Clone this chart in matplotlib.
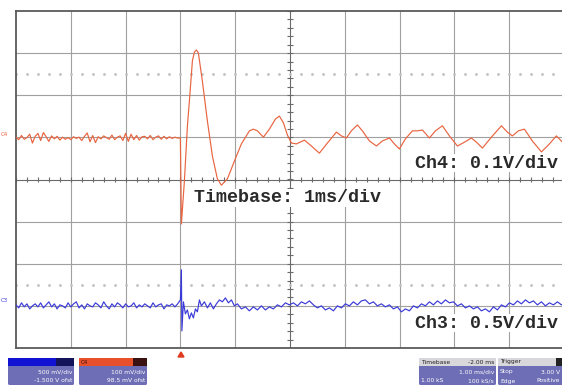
import numpy as np
import matplotlib.pyplot as plt
from matplotlib.patches import FancyBboxPatch, Rectangle, Polygon

# channel settings: volts per division and offset (V)
CH3_VDIV = 0.5
CH3_OFST = -1.5
CH4_VDIV = 0.1
CH4_OFST = 0.0985

# pre-trigger record, one sample every 0.05 ms starting at -3 ms
SAMPLE_DT = 0.05
ch4_pre = [0.002, -0.004, 0.006, -0.003, 0.001, 0.009, -0.012, 0.004, 0.011, -0.006,
           0.013, 0.003, -0.008, 0.005, -0.002, 0.004, -0.005, 0.002, -0.003, 0.001,
           -0.004, 0.003, -0.001, 0.002, -0.006, 0.004, 0.012, -0.009, 0.006, -0.011,
           0.003, -0.002, 0.005, 0.001, -0.003, 0.007, -0.004, 0.002, 0.005, -0.006,
           0.011, -0.008, 0.009, -0.004, 0.006, -0.005, 0.003, 0.004, -0.002, 0.006,
           -0.004, 0.002, 0.005, -0.003, 0.004, -0.002, 0.003, -0.001, 0.002, 0.0]
ch3_pre = [0.012, -0.024, 0.036, -0.012, 0.024, -0.036, 0.0, 0.024, -0.012, 0.036,
           -0.024, 0.012, 0.048, -0.012, 0.024, -0.036, 0.012, 0.0, -0.024, 0.036,
           -0.012, 0.024, 0.048, -0.024, 0.012, -0.036, 0.024, 0.0, -0.012, 0.036,
           0.012, -0.024, 0.048, 0.0, -0.036, 0.024, -0.012, 0.036, 0.012, -0.024,
           0.024, -0.012, 0.0, 0.036, -0.024, 0.012, -0.012, 0.024, 0.0, -0.024,
           0.036, -0.012, 0.012, 0.024, -0.036, 0.012, 0.0, 0.024, -0.012, 0.024]

# post-trigger response (ms, V)
ch4_t = [0.000, 0.018, 0.073, 0.128, 0.164, 0.219, 0.255, 0.292, 0.328, 0.401,
         0.493, 0.584, 0.675, 0.748, 0.858, 0.985, 1.113, 1.259, 1.332, 1.405,
         1.515, 1.624, 1.734, 1.807, 1.880, 1.953, 2.026, 2.117, 2.263, 2.391,
         2.536, 2.682, 2.847, 2.938, 3.029, 3.120, 3.230, 3.321, 3.449, 3.577,
         3.686, 3.814, 3.905, 3.996, 4.106, 4.234, 4.325, 4.416, 4.544, 4.653,
         4.781, 4.909, 5.055, 5.182, 5.310, 5.420, 5.511, 5.675, 5.858, 5.967,
         6.058, 6.168, 6.277, 6.423, 6.588, 6.734, 6.861, 6.989]
ch4_v = [0.000, -0.204, -0.102, 0.029, 0.088, 0.183, 0.204, 0.209, 0.202, 0.135,
         0.040, -0.043, -0.097, -0.112, -0.097, -0.055, -0.014, 0.017, 0.021, 0.017,
         0.002, 0.021, 0.045, 0.052, 0.036, 0.007, -0.012, -0.014, -0.005, -0.019,
         -0.036, -0.012, 0.014, 0.005, 0.000, 0.017, 0.031, 0.017, -0.007, -0.019,
         -0.007, 0.000, -0.014, -0.026, -0.002, 0.017, 0.017, 0.019, 0.000, 0.017,
         0.029, 0.005, -0.019, -0.010, 0.000, -0.012, -0.024, 0.002, 0.029, 0.014,
         0.005, 0.017, 0.021, -0.007, -0.033, -0.014, 0.005, -0.012]

ch3_t = [0.000, 0.018, 0.027, 0.055, 0.091, 0.128, 0.164, 0.201, 0.237, 0.274,
         0.310, 0.347, 0.383, 0.438, 0.493, 0.547, 0.602, 0.657, 0.712, 0.766,
         0.821, 0.876, 0.931, 0.985, 1.040, 1.113, 1.186, 1.259, 1.332, 1.405,
         1.478, 1.551, 1.624, 1.697, 1.770, 1.843, 1.916, 1.989, 2.062, 2.135,
         2.208, 2.281, 2.354, 2.427, 2.500, 2.573, 2.646, 2.719, 2.792, 2.865,
         2.938, 3.011, 3.084, 3.157, 3.230, 3.303, 3.376, 3.449, 3.522, 3.595,
         3.668, 3.741, 3.814, 3.887, 3.960, 4.033, 4.106, 4.179, 4.252, 4.325,
         4.398, 4.471, 4.544, 4.617, 4.690, 4.763, 4.836, 4.909, 4.982, 5.055,
         5.128, 5.201, 5.274, 5.347, 5.420, 5.493, 5.566, 5.639, 5.712, 5.785,
         5.858, 5.931, 6.004, 6.077, 6.150, 6.223, 6.296, 6.369, 6.442, 6.515,
         6.588, 6.661, 6.734, 6.807, 6.880, 6.953, 6.989]
ch3_v = [0.071, 0.428, -0.297, 0.048, -0.095, -0.048, -0.154, -0.083, -0.143, -0.036,
         -0.071, 0.071, 0.000, 0.048, -0.024, 0.036, -0.036, 0.024, 0.071, 0.048,
         0.095, 0.036, 0.071, 0.000, 0.024, -0.036, -0.012, -0.059, -0.012, -0.048,
         0.000, -0.048, -0.012, -0.036, 0.012, -0.012, 0.036, 0.012, 0.036, 0.000,
         0.048, 0.024, 0.059, 0.012, -0.024, 0.000, -0.048, -0.024, -0.059, 0.000,
         -0.024, 0.024, 0.000, 0.048, 0.012, 0.059, 0.071, 0.024, 0.048, 0.000,
         0.024, -0.012, 0.012, -0.036, -0.012, -0.071, -0.036, -0.059, 0.000, -0.024,
         0.024, 0.000, 0.048, 0.012, 0.059, 0.024, 0.071, 0.036, 0.048, 0.000,
         0.024, -0.024, 0.000, -0.036, -0.012, -0.059, -0.036, -0.071, -0.012, -0.048,
         0.012, -0.012, 0.036, 0.012, 0.059, 0.024, 0.071, 0.036, 0.059, 0.012,
         0.048, 0.000, 0.036, 0.012, 0.048, 0.012, 0.024]

CH4_COLOR = "#e8643f"
CH3_COLOR = "#3a3ad8"
GRID = "#a0a0a0"

t_pre = -3.0 + SAMPLE_DT * np.arange(len(ch4_pre))
t4 = np.concatenate([t_pre, ch4_t])
v4 = np.concatenate([ch4_pre, ch4_v])
t3 = np.concatenate([t_pre, ch3_t])
v3 = np.concatenate([ch3_pre, ch3_v])

W, H = 562, 387
fig = plt.figure(figsize=(W / 100, H / 100), dpi=100)
fig.patch.set_facecolor("white")

# screen graticule: 10 x 8 divisions, 1 ms/div
left, right, top, bottom = 16, 564, 11, 348
ax = fig.add_axes([left / W, 1 - bottom / H, (right - left) / W, (bottom - top) / H])
ax.set_xlim(-3, 7)
ax.set_ylim(-4, 4)
ax.set_xticks([])
ax.set_yticks([])
for s in ax.spines.values():
    s.set_color("#5a5a5a")
    s.set_linewidth(1.3)

for x in range(-2, 7):
    ax.axvline(x, color=GRID if x != 2 else "#6a6a6a", lw=0.8, zorder=1)
for y in range(-3, 4):
    ax.axhline(y, color=GRID if y != 0 else "#6a6a6a", lw=0.8, zorder=1)

# minor ticks on the centre lines
minor_x = np.arange(-3, 7.01, 0.2)
minor_y = np.arange(-4, 4.01, 0.2)
ax.vlines(minor_x, -0.07, 0.07, color="#6a6a6a", lw=0.8, zorder=1)
ax.hlines(minor_y, 1.945, 2.055, color="#6a6a6a", lw=0.8, zorder=1)

# dotted reference rows
for yd in (2.5, -2.5):
    ax.plot(minor_x, np.full_like(minor_x, yd), ls="none", marker="s", ms=0.9,
            color="#c0c0c0", zorder=1)

ax.plot(t4, (v4 + CH4_OFST) / CH4_VDIV, color=CH4_COLOR, lw=0.85, zorder=3)
ax.plot(t3, (v3 + CH3_OFST) / CH3_VDIV, color=CH3_COLOR, lw=0.85, zorder=3)

# overlay in pixel units for labels and status boxes
ov = fig.add_axes([0, 0, 1, 1], facecolor="none")
ov.set_xlim(0, W)
ov.set_ylim(H, 0)
ov.axis("off")

mono = dict(family="Liberation Mono", fontsize=13.2, fontweight="bold", color="#2a2a2a",
            va="center", ha="left")
box = dict(facecolor="white", edgecolor="none", pad=0.5)
ov.text(415, 163, "Ch4: 0.1V/div", bbox=box, **mono)
ov.text(194, 198, "Timebase: 1ms/div", bbox=box, **mono)
ov.text(415, 323, "Ch3: 0.5V/div", bbox=box, **mono)

# channel markers on the left edge
ov.text(1, 134, "C4", fontsize=4, color=CH4_COLOR, va="center")
ov.text(1, 300, "C3", fontsize=4, color=CH3_COLOR, va="center")

# trigger position marker
ov.add_patch(Polygon([[178, 357], [184, 357], [181, 352]], closed=True, color="#e03a20"))

BODY = "#6e6eb6"
small = dict(fontsize=4.3, color="white", va="center")


def status_box(x0, x1, head_color, tag_color=None, tag_w=0):
    ov.add_patch(FancyBboxPatch((x0, 358), x1 - x0, 27, boxstyle="round,pad=0,rounding_size=1.5",
                                facecolor=BODY, edgecolor="none"))
    ov.add_patch(Rectangle((x0, 358), x1 - x0, 8, facecolor=head_color, edgecolor="none"))
    if tag_color:
        ov.add_patch(Rectangle((x1 - tag_w, 358), tag_w, 8, facecolor=tag_color, edgecolor="none"))


status_box(8, 74, "#1212d2", "#14145a", 18)
ov.text(72, 372, "500 mV/div", ha="right", **small)
ov.text(72, 381, "-1.500 V ofst", ha="right", **small)

status_box(79, 147, "#e8502c", "#3a1212", 14)
ov.text(81, 362, "C4", fontsize=4, color="#3a1212", va="center")
ov.text(145, 372, "100 mV/div", ha="right", **small)
ov.text(145, 381, "98.5 mV ofst", ha="right", **small)

status_box(419, 496, "#d8d8dc")
ov.text(421, 362, "Timebase", fontsize=4.3, color="#222222", va="center")
ov.text(494, 362, "-2.00 ms", fontsize=4.3, color="#222222", va="center", ha="right")
ov.text(494, 372, "1.00 ms/div", ha="right", **small)
ov.text(421, 381, "1.00 kS", ha="left", **small)
ov.text(494, 381, "100 kS/s", ha="right", **small)

status_box(498, 580, "#d8d8dc", "#222222", 24)
ov.text(500, 362, "Trigger", fontsize=4.3, color="#222222", va="center")
ov.text(500, 372, "Stop", ha="left", **small)
ov.text(560, 372, "3.00 V", ha="right", **small)
ov.text(500, 381, "Edge", ha="left", **small)
ov.text(560, 381, "Positive", ha="right", **small)

fig.savefig("out.png", dpi=100)
plt.close(fig)
